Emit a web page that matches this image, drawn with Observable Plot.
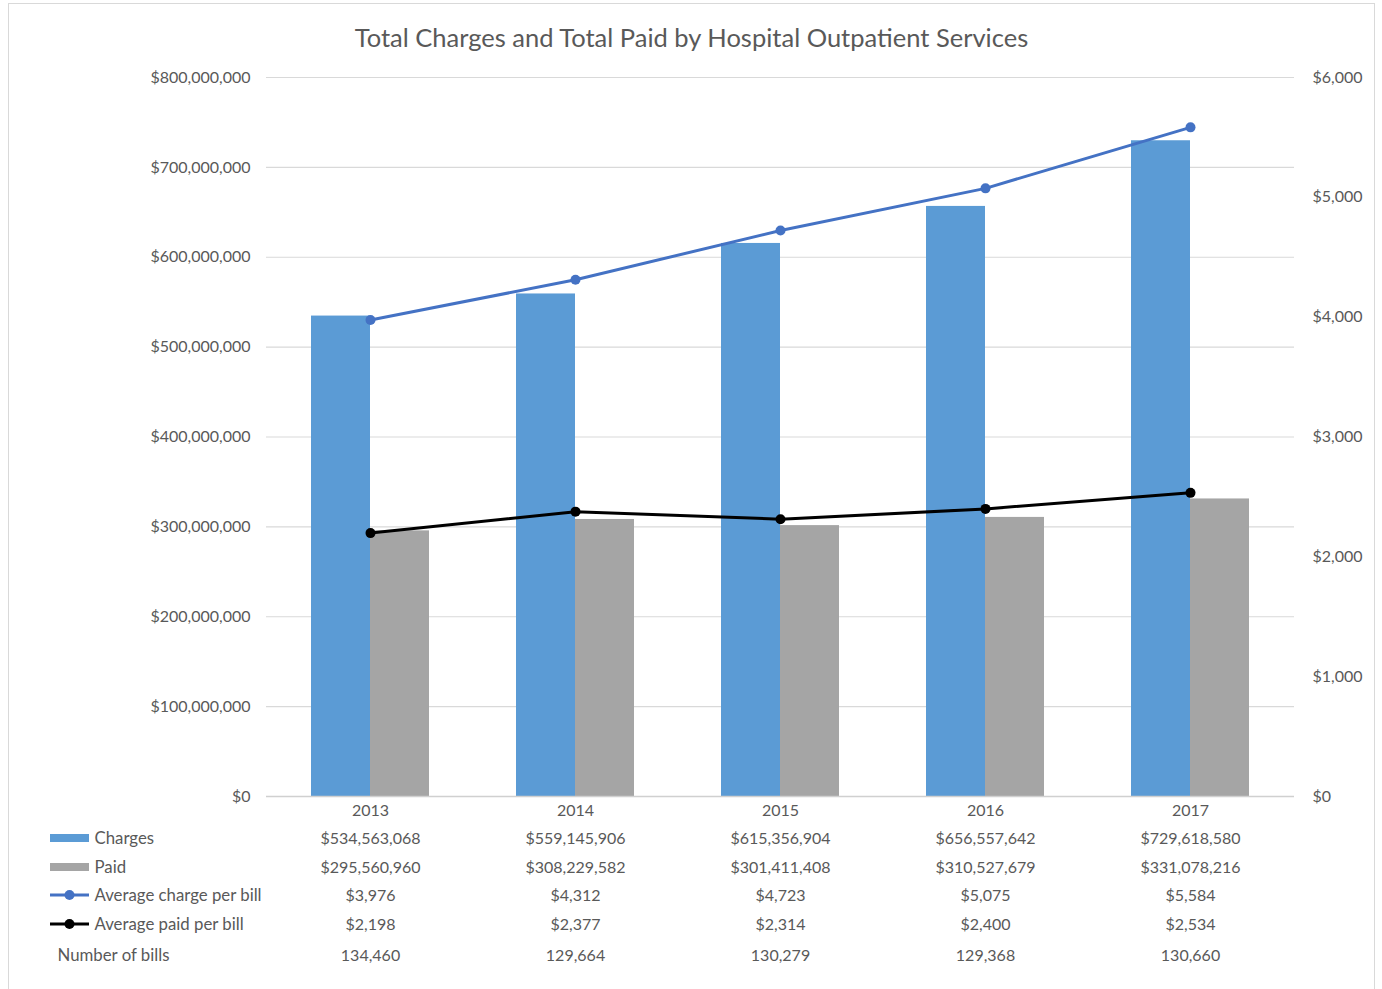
<!DOCTYPE html>
<html><head><meta charset="utf-8">
<script src="https://cdn.jsdelivr.net/npm/d3@7"></script>
<script src="https://cdn.jsdelivr.net/npm/@observablehq/plot@0.6"></script>
<style>
body{margin:0;background:#fff;font-family:Lato,"Open Sans",sans-serif;}
#frame{position:absolute;left:8px;top:3px;width:1367px;height:1010px;border:1px solid #d9d9d9;box-sizing:border-box;background:#fff;}
#title{position:absolute;left:0;width:100%;top:17px;text-align:center;color:#595959;font-size:25.5px;line-height:32px;}
#chart{position:absolute;left:0;top:55px;}
</style></head>
<body>
<div id="frame"><div id="title">Total Charges and Total Paid by Hospital Outpatient Services</div><div id="chart"></div></div>
<script>
const years = ["2013","2014","2015","2016","2017"];
const charges = [534563068, 559145906, 615356904, 656557642, 729618580];
const paid = [295560960, 308229582, 301411408, 310527679, 331078216];
const avgCharge = [3976, 4312, 4723, 5075, 5584];
const avgPaid = [2198, 2377, 2314, 2400, 2534];
const bills = [134460, 129664, 130279, 129368, 130660];
const leftTicks = [0,100e6,200e6,300e6,400e6,500e6,600e6,700e6,800e6];
const rightTicks = [0,1000,2000,3000,4000,5000,6000];

const k = 800e6 / 6000; // right-axis dollars -> left-axis units
const data = years.map((y,i)=>({year:y, charges:charges[i], paid:paid[i], avgCharge:avgCharge[i], avgPaid:avgPaid[i], bills:bills[i]}));
const money = v => "$" + d3.format(",")(v);
const num = d3.format(",");
const txt = "#595959";
const fs = 16;
const lfs = 16.8;
const ML = 257;

const rows = [
  {dy:14, f: d => d.year},
  {dy:42, f: d => money(d.charges)},
  {dy:71, f: d => money(d.paid)},
  {dy:99, f: d => money(d.avgCharge)},
  {dy:128, f: d => money(d.avgPaid)},
  {dy:159, f: d => num(d.bills)}
];
const legendRows = [
  {dy:42, label:"Charges", dx:-172},
  {dy:71, label:"Paid", dx:-172},
  {dy:99, label:"Average charge per bill", dx:-172},
  {dy:128, label:"Average paid per bill", dx:-172},
  {dy:159, label:"Number of bills", dx:-209}
];

const plot = Plot.plot({
  width: 1365,
  height: 934,
  marginLeft: ML,
  marginRight: 80,
  marginTop: 18,
  marginBottom: 197,
  style: {fontFamily: "Lato, 'Open Sans', sans-serif", fontSize: fs + "px", color: txt, background: "#fff"},
  x: {domain: years, paddingInner: 0.424, paddingOuter: 0.212, axis: null},
  y: {domain: [0, 800e6], axis: null},
  marks: [
    Plot.gridY(leftTicks, {stroke: "#d9d9d9", strokeOpacity: 1, strokeWidth: 1.2}),
    Plot.axisY(leftTicks, {anchor: "left", tickSize: 0, tickPadding: 16, tickFormat: money, fill: txt, fontSize: fs, label: null}),
    Plot.axisY(rightTicks.map(v => v * k), {anchor: "right", tickSize: 0, tickPadding: 18, tickFormat: v => money(Math.round(v / k)), fill: txt, fontSize: fs, label: null}),
    Plot.barY(data, {x: "year", y: "charges", fill: "#5B9BD5", insetRight: 59}),
    Plot.barY(data, {x: "year", y: "paid", fill: "#A5A5A5", insetLeft: 59}),
    Plot.ruleY([0], {stroke: "#d0d0d0", strokeWidth: 1.5}),
    Plot.line(data, {x: "year", y: d => d.avgCharge * k, stroke: "#4472C4", strokeWidth: 3}),
    Plot.dot(data, {x: "year", y: d => d.avgCharge * k, fill: "#4472C4", r: 5}),
    Plot.line(data, {x: "year", y: d => d.avgPaid * k, stroke: "#000", strokeWidth: 3}),
    Plot.dot(data, {x: "year", y: d => d.avgPaid * k, fill: "#000", r: 5}),
    ...rows.map(r => Plot.text(data, {x: "year", y: 0, dy: r.dy, text: r.f, fill: txt, fontSize: fs})),
    ...legendRows.map(r => Plot.text([r.label], {frameAnchor: "bottom-left", lineAnchor: "middle", dx: r.dx, dy: r.dy, text: d => d, textAnchor: "start", fill: txt, fontSize: lfs}))
  ]
});
document.getElementById("chart").appendChild(plot);

// legend swatches drawn beside the table labels
const svg = d3.select(plot);
const y0 = plot.scale("y").apply(0);
const sx = ML - 216, ex = ML - 177;
const g = svg.append("g");
g.append("rect").attr("x", sx).attr("y", y0 + 42 - 4).attr("width", ex - sx).attr("height", 8).attr("fill", "#5B9BD5");
g.append("rect").attr("x", sx).attr("y", y0 + 71 - 4).attr("width", ex - sx).attr("height", 8).attr("fill", "#A5A5A5");
[[99, "#4472C4", 5], [128, "#000", 5]].forEach(([dy, c, r]) => {
  g.append("line").attr("x1", sx).attr("x2", ex).attr("y1", y0 + dy).attr("y2", y0 + dy).attr("stroke", c).attr("stroke-width", 3);
  g.append("circle").attr("cx", (sx + ex) / 2).attr("cy", y0 + dy).attr("r", r).attr("fill", c);
});
</script>
</body></html>
